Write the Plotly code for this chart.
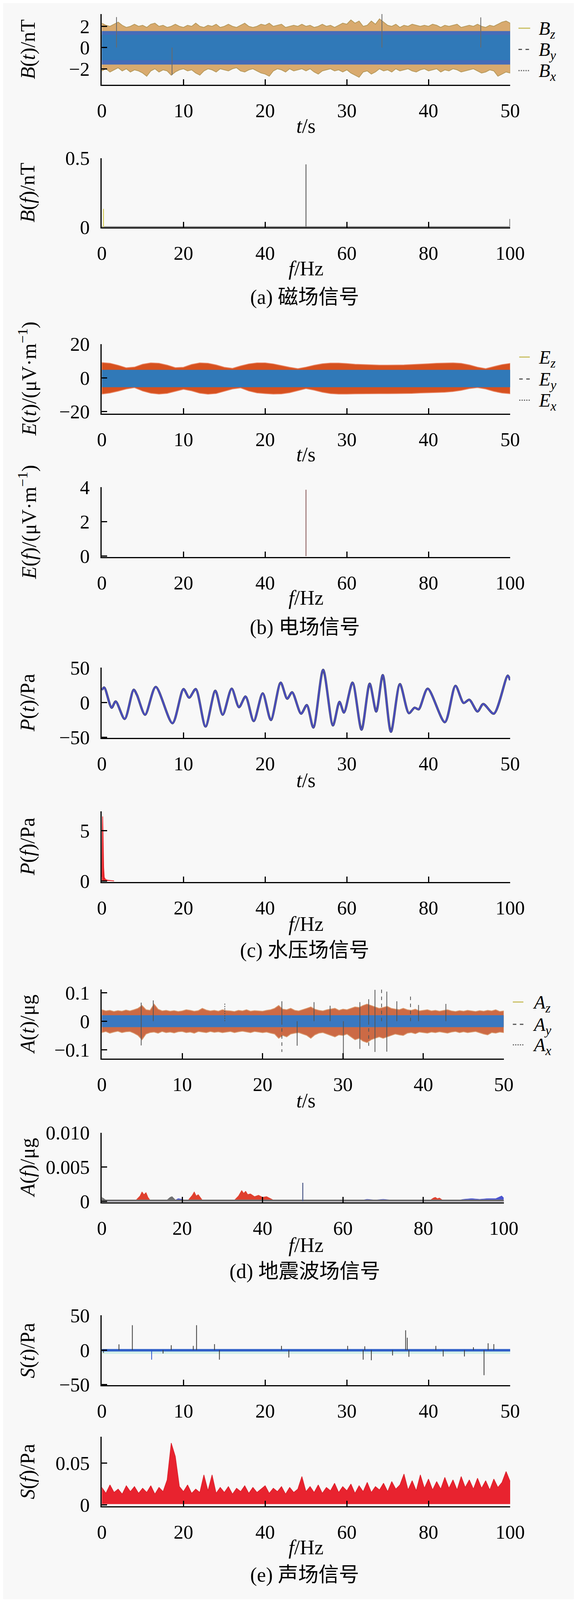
import plotly.graph_objects as go

W = 1476
REF_H = 4452          # reference page height, all positions below are read in it
H = 4086              # drawn height: the captured page stops near 4096 px
SERIF = "Liberation Serif"
CJK = "Liberation Serif, Noto Sans CJK SC"
BG = "#f8f8f8"

# ---- shared sample grids / tick labels ------------------------------------
t_ticks = [0, 10, 20, 30, 40, 50]
f_ticks = [0, 20, 40, 60, 80, 100]
t_half = [i / 2 for i in range(101)]   # envelope read every 0.5 s
t_sec = list(range(51))                 # envelope read every 1 s
f_hz = list(range(101))                 # envelope read every 1 Hz

# ---- (a) magnetic field ---------------------------------------------------
b_fuzz_top = [2.3, 2.1, 2.0, 2.2, 2.4, 2.1, 1.9, 2.0, 2.2, 2.0,
              2.1, 1.9, 2.2, 2.3, 2.0, 2.1, 1.9, 2.0, 2.2, 2.0,
              1.9, 2.1, 2.0, 2.3, 2.0, 1.9, 2.1, 2.0, 2.2, 1.9,
              2.0, 2.2, 2.0, 1.9, 2.1, 2.3, 2.0, 1.9, 2.0, 2.2,
              2.1, 2.3, 2.0, 2.1, 2.2, 1.9, 2.0, 2.1, 2.0, 2.2,
              2.0, 2.1, 1.9, 2.0, 2.2, 2.0, 2.1, 1.9, 2.1, 2.3,
              2.2, 2.6, 2.3, 2.5, 2.0, 2.1, 2.5, 2.2, 2.7, 2.4,
              2.1, 2.0, 2.2, 1.9, 2.1, 2.0, 2.2, 2.1, 2.0, 2.1,
              2.0, 2.2, 2.1, 1.9, 2.1, 2.0, 2.1, 2.2, 1.9, 2.0,
              2.1, 2.0, 2.2, 2.0, 1.9, 2.1, 2.0, 2.2, 2.4, 2.5,
              2.3]
b_fuzz_bot = [-2.2, -2.0, -2.3, -2.1, -1.9, -2.2, -2.0, -2.3, -2.1, -2.2,
              -2.4, -2.7, -2.2, -2.0, -2.3, -2.1, -2.2, -2.6, -2.3, -2.1,
              -2.0, -2.2, -2.1, -2.4, -2.6, -2.2, -2.0, -2.1, -2.3, -2.0,
              -2.1, -2.2, -2.0, -1.9, -2.2, -2.3, -2.1, -2.0, -2.2, -2.4,
              -2.5, -2.7, -2.2, -2.0, -2.1, -2.3, -2.0, -2.2, -2.1, -2.0,
              -2.2, -2.0, -2.3, -2.5, -2.2, -2.1, -2.0, -2.2, -2.1, -2.3,
              -2.1, -2.4, -2.6, -2.8, -2.3, -2.2, -2.5, -2.3, -2.0, -2.2,
              -2.1, -2.3, -2.0, -2.2, -2.1, -2.0, -2.2, -2.3, -2.1, -2.0,
              -2.2, -2.1, -2.0, -2.3, -2.1, -2.2, -2.0, -2.1, -2.3, -2.2,
              -2.1, -2.0, -2.2, -2.4, -2.3, -2.1, -2.2, -2.7, -2.5, -2.3,
              -2.4]
b_mid = [-1.6, 1.56]
b_core = [-1.2, 1.2]
b_spike_t = [1.8, 34.3, 46.4, 8.6]
b_spike_v = [2.87, 3.16, 2.85, -2.6]
bf_spike_f = [0.4, 50.0, 99.9]
bf_spike_v = [0.133, 0.455, 0.06]
bf_spike_c = ["#d8cf5a", "#6b6b6b", "#8a8a8a"]
bf_floor = 0.007

# ---- (b) electric field ---------------------------------------------------
e_top = [9.0, 8.6, 7.4, 5.9, 6.3, 8.0, 8.8, 8.6, 7.5, 6.0,
         6.2, 7.9, 8.8, 8.6, 7.6, 6.2, 5.6, 7.0, 8.2, 8.8,
         8.8, 8.2, 7.2, 6.2, 5.4, 6.3, 7.4, 8.3, 8.7, 8.7,
         8.4, 8.0, 7.8, 7.6, 7.5, 7.5, 7.5, 7.6, 7.8, 8.0,
         8.3, 8.6, 8.7, 8.8, 8.5, 7.6, 6.3, 5.4, 6.6, 7.8,
         8.5]
e_bot = [-9.6, -9.0, -7.9, -6.6, -5.8, -7.8, -9.1, -9.6, -9.2, -8.0,
         -6.8, -7.7, -9.1, -9.7, -9.3, -8.0, -6.6, -6.0, -7.8, -8.9,
         -9.3, -9.6, -9.5, -8.8, -7.6, -6.4, -7.3, -8.5, -9.3, -9.6,
         -9.6, -9.5, -9.5, -9.4, -9.4, -9.4, -9.4, -9.3, -9.2, -9.0,
         -8.8, -8.7, -8.5, -8.1, -7.4, -6.4, -5.8, -6.6, -8.0, -9.0,
         -9.4]
e_core = [-5.6, 4.7]
ef_spike_f = [50.0]
ef_spike_v = [3.85]

# ---- (c) water pressure ---------------------------------------------------
p_t = [0, 0.3, 1.2, 1.7, 2.8, 3.9, 4.3, 5.3, 6.6, 8.65, 10.0, 10.7, 11.5,
       12.7, 13.9, 14.8, 15.9, 16.8, 17.6, 18.6, 19.7, 20.7, 21.9, 22.7,
       23.3, 24.4, 25.1, 25.9, 27.1, 28.3, 29.1, 29.65, 30.7, 31.8, 32.8,
       33.6, 34.4, 35.4, 36.5, 37.6, 38.3, 38.8, 39.9, 42.0, 43.3, 44.3,
       45.0, 46.0, 46.7, 48.0, 49.7, 50.0]
p_v = [18, 21.5, -7.4, 1.5, -23.6, 18.4, 11, -17.5, 22.4, -29.7, 19.3, 7,
       19.3, -34.4, 16.9, -17.5, 19.9, -6.7, 8.6, -26.7, 13.2, -25.1, 28.5,
       5.5, 14.7, -16, -3.7, -35.9, 46.9, -32.8, 0.9, -14.4, 28.5, -39, 27,
       -12.9, 39.3, -42, 26.4, -15.3, -7.4, -9.8, 19.9, -28.2, 23.9, -0.6,
       4, -12.9, -2.1, -16, 38.6, 32]
pf_f = [0, 0.1, 0.2, 0.3, 0.45, 0.6, 0.9, 1.4, 2.2, 3.0]
pf_v = [0.4, 2.6, 6.4, 4.6, 1.3, 0.35, 0.15, 0.08, 0.03, 0]

# ---- (d) seismic ----------------------------------------------------------
a_fuzz_top = [.040, .036, .038, .034, .037, .035, .039, .036, .040, .045,
              .055, .040, .038, .060, .042, .036, .038, .035, .037, .034,
              .036, .040, .038, .035, .037, .045, .039, .036, .038, .035,
              .040, .037, .036, .034, .038, .036, .040, .035, .037, .036,
              .035, .038, .040, .045, .055, .042, .040, .045, .038, .036,
              .040, .045, .050, .042, .038, .036, .040, .043, .045, .038,
              .042, .040, .045, .050, .048, .055, .060, .055, .050, .045,
              .048, .052, .045, .042, .040, .045, .040, .038, .042, .036,
              .038, .040, .036, .038, .035, .037, .040, .036, .034, .037,
              .035, .038, .036, .034, .037, .035, .038, .036, .040, .034,
              .036]
a_fuzz_bot = [-.040, -.036, -.042, -.038, -.035, -.040, -.037, -.036, -.042, -.050,
              -.065, -.045, -.040, -.038, -.042, -.036, -.040, -.038, -.041, -.037,
              -.036, -.040, -.038, -.042, -.036, -.038, -.040, -.036, -.039, -.037,
              -.040, -.038, -.036, -.040, -.037, -.035, -.038, -.040, -.036, -.038,
              -.040, -.038, -.042, -.045, -.060, -.050, -.055, -.045, -.042, -.040,
              -.045, -.050, -.060, -.048, -.042, -.040, -.045, -.050, -.055, -.048,
              -.050, -.045, -.055, -.065, -.060, -.070, -.075, -.065, -.060, -.055,
              -.060, -.055, -.050, -.045, -.048, -.050, -.042, -.040, -.044, -.038,
              -.040, -.042, -.038, -.040, -.037, -.039, -.042, -.038, -.036, -.040,
              -.037, -.040, -.038, -.036, -.040, -.045, -.048, -.040, -.042, -.038,
              -.040]
a_core = [-0.021, 0.021]
a_spike_t = [4.9, 4.9, 6.4, 15.3, 22.4, 22.4, 24.3, 26.4, 28.4, 30.05, 32.1,
             32.1, 33.2, 33.2, 33.98, 33.98, 34.8, 35.45, 35.45, 36.7, 38.4,
             39.4, 42.8]
a_spike_v = [0.065, -0.085, 0.073, 0.065, 0.07, -0.108, -0.086, 0.067, 0.054,
             -0.133, 0.067, -0.0975, 0.077, -0.095, 0.110, -0.108, 0.117,
             0.104, -0.107, 0.07, 0.0895, 0.057, 0.0605]
a_spike_dash = ["solid", "solid", "solid", "dot", "solid", "dash", "solid",
                "solid", "solid", "solid", "solid", "solid", "solid", "dash",
                "solid", "solid", "dash", "solid", "solid", "solid", "dash",
                "solid", "solid"]
af_floor = 0.00025
af_red_f = [0, 8.5, 9.5, 10, 10.5, 11, 11.5, 12, 21.5, 22.5, 23, 23.5, 24, 25,
            33, 34, 34.8, 35.3, 35.8, 36.3, 37, 38, 39, 40, 41, 42, 43,
            81.5, 82.5, 83, 83.5, 84, 85, 100]
af_red_v = [0, 0.0002, 0.0008, 0.0014, 0.0010, 0.0013, 0.0006, 0.0002,
            0.0002, 0.0009, 0.0014, 0.0008, 0.0010, 0.0002,
            0.0002, 0.0008, 0.0016, 0.0012, 0.0015, 0.0010, 0.0011, 0.0007,
            0.0009, 0.0006, 0.0007, 0.0004, 0.0001,
            0.0001, 0.0005, 0.0006, 0.0004, 0.0005, 0.0001, 0]
af_blue_f = [0, 18, 19, 20, 21, 64, 66, 68, 70, 72, 74, 88, 90, 92, 94, 96, 98,
             99.5, 100]
af_blue_v = [0, 0.0001, 0.0004, 0.0003, 0.0001, 0.0001, 0.0003, 0.0002,
             0.0003, 0.0002, 0.0001, 0.0001, 0.0003, 0.0004, 0.0003, 0.0004,
             0.0004, 0.0008, 0.0005]
af_gray_f = [0, 0.5, 1.0, 16, 17, 17.5, 18.5, 100]
af_gray_v = [0.0006, 0.0004, 0.0002, 0.0001, 0.0006, 0.0007, 0.0001, 0.0001]
af_spike_f = [50.0]
af_spike_v = [0.0027]

# ---- (e) acoustic ---------------------------------------------------------
s_core = [-2.0, 1.6]
s_shade = [-5.5, -1.0]
s_spike_t = [3.74, 11.6, 37.2, 37.4, 2.1, 8.5, 11.2, 13.8, 22.0, 30.1, 32.2,
             40.9, 47.3, 48.0, 45.5, 46.8, 6.1, 14.4, 32.0, 33.0, 22.9, 37.6,
             41.8, 44.4, 35.6, 0.2, 7.5]
s_spike_v = [35.9, 35.9, 28.5, 17.8, 8.3, 7, 6, 8.6, 6, 6, 5.5, 6, 9.8, 8.6,
             4, -36.2, -13.8, -13.8, -13.8, -14.7, -10.7, -9.8, -9.2, -9.2,
             -7.7, -4, -5]
s_spike_c = ["#3a3a3a"] * 16 + ["#2a55d0"] + ["#3a3a3a"] * 10
sf_top = [.021, .014, .024, .015, .019, .013, .023, .016, .022, .014,
          .020, .015, .023, .013, .021, .016, .030, .074, .058, .022,
          .016, .024, .014, .019, .015, .036, .017, .036, .014, .021,
          .015, .022, .013, .020, .016, .023, .014, .021, .015, .019,
          .023, .014, .020, .016, .022, .013, .021, .015, .019, .034,
          .016, .022, .015, .024, .014, .021, .017, .026, .015, .022,
          .017, .025, .014, .023, .016, .027, .015, .022, .018, .026,
          .016, .028, .019, .024, .037, .018, .029, .017, .036, .020,
          .031, .018, .028, .019, .033, .020, .030, .018, .034, .021,
          .030, .019, .032, .020, .029, .018, .031, .021, .027, .040,
          .028]
sf_bottom = 0.001

# ---- captions / titles ----------------------------------------------------
captions = ["(a) 磁场信号", "(b) 电场信号", "(c) 水压场信号", "(d) 地震波场信号", "(e) 声场信号"]
caption_y = [801, 1734, 2648, 3556, 4414]
y_titles = ["<i>B</i>(<i>t</i>)/nT", "<i>B</i>(<i>f</i>)/nT",
            "<i>E</i>(<i>t</i>)/(μV·m<sup>−1</sup>)", "<i>E</i>(<i>f</i>)/(μV·m<sup>−1</sup>)",
            "<i>P</i>(<i>t</i>)/Pa", "<i>P</i>(<i>f</i>)/Pa",
            "<i>A</i>(<i>t</i>)/μg", "<i>A</i>(<i>f</i>)/μg",
            "<i>S</i>(<i>t</i>)/Pa", "<i>S</i>(<i>f</i>)/Pa"]
x_titles = ["<i>t</i>/s", "<i>f</i>/Hz"] * 4 + [None, "<i>f</i>/Hz"]
x_title_y = [316, 720, 1246, 1651, 2167, 2573, 3073, 3482, None, 4337]

# panel frames in reference pixels: (x0, x1, y_top, y_bottom)
frames = [(248, 1330, 0, 200), (248, 1330, 407.6, 602.8),
          (248, 1330, 933, 1130), (248, 1330, 1338, 1536),
          (248, 1330, 1848.5, 2046.7), (248, 1330, 2254.5, 2454.5),
          (248, 1313, 2758.8, 2954.5), (248, 1313, 3163.6, 3360.6),
          (248, 1330, 3680.3, 3878), (248, 1330, 4023.4, 4219.5)]
y_ranges = [[-3.51, 3.16], [0, 0.5], [-21.2, 20], [-0.06, 4], [-50.6, 50],
            [-0.1, 6.91], [-0.132, 0.111], [-0.00015, 0.010], [-50.8, 50],
            [-0.0013, 0.0815]]
y_tickvals = [[-2, 0, 2], [0, 0.5], [-20, 0, 20], [0, 2, 4], [-50, 0, 50],
              [0, 5], [-0.1, 0, 0.1], [0, 0.005, 0.010], [-50, 0, 50], [0, 0.05]]
y_ticktext = [["−2", "0", "2"], ["0", "0.5"], ["−20", "0", "20"], ["0", "2", "4"],
              ["−50", "0", "50"], ["0", "5"], ["−0.1", "0", "0.1"],
              ["0", "0.005", "0.010"], ["−50", "0", "50"], ["0", "0.05"]]


def pxx(x):
    return x / W


def pxy(y):
    return 1 - y / REF_H


fig = go.Figure()


def add(i, **kw):
    s = "" if i == 1 else str(i)
    kw.setdefault("mode", "lines")
    kw.setdefault("hoverinfo", "skip")
    fig.add_trace(go.Scatter(xaxis="x" + s, yaxis="y" + s, showlegend=False, **kw))


def band(i, xs, top, bot, color, edge):
    add(i, x=list(xs) + list(xs)[::-1], y=list(top) + list(bot)[::-1],
        fill="toself", fillcolor=color, line=dict(width=2, color=edge))


def flat_band(i, x0, x1, lo, hi, color):
    add(i, x=[x0, x1, x1, x0], y=[lo, lo, hi, hi], fill="toself",
        fillcolor=color, line=dict(width=0, color=color))


def spike(i, x, v, color, width=2, dash="solid"):
    add(i, x=[x, x], y=[0, v], line=dict(color=color, width=width, dash=dash))


# (a) B(t)
band(1, t_half, b_fuzz_top, b_fuzz_bot, "#d9aa6e", "#b79a5c")
flat_band(1, 0, 50, b_mid[0], b_mid[1], "#466cb8")
flat_band(1, 0, 50, b_core[0], b_core[1], "#3079b8")
for t, v in zip(b_spike_t, b_spike_v):
    spike(1, t, v, "#6a6a6a", 2)
# (a) B(f)
flat_band(2, 0, 100, 0, bf_floor, "#7a7a7a")
for f, v, c in zip(bf_spike_f, bf_spike_v, bf_spike_c):
    spike(2, f, v, c, 2.5)

# (b) E(t)
band(3, t_sec, e_top, e_bot, "#d6511f", "#e9805e")
flat_band(3, 0, 50, e_core[0], e_core[1], "#3079b8")
# (b) E(f)
for f, v in zip(ef_spike_f, ef_spike_v):
    spike(4, f, v, "#9a7272", 2.5)

# (c) P(t)
add(5, x=p_t, y=p_v, line=dict(color="#4a5070", width=6, shape="spline", smoothing=0.8))
add(5, x=p_t, y=p_v, line=dict(color="#4a4cc6", width=3.5, shape="spline", smoothing=0.8))
# (c) P(f)
add(6, x=pf_f, y=pf_v, fill="tozeroy", fillcolor="#e5262b", line=dict(color="#e5262b", width=2))

# (d) A(t)
band(7, t_half, a_fuzz_top, a_fuzz_bot, "#cc6a45", "#d9966a")
flat_band(7, 0, 50, a_core[0], a_core[1], "#3a78c0")
for t, v, d in zip(a_spike_t, a_spike_v, a_spike_dash):
    spike(7, t, v, "#555555", 2, d)
# (d) A(f)
add(8, x=af_red_f, y=af_red_v, fill="tozeroy", fillcolor="#e0402e", line=dict(color="#e0402e", width=1))
add(8, x=af_blue_f, y=af_blue_v, fill="tozeroy", fillcolor="#4b55d0", line=dict(color="#4b55d0", width=1))
add(8, x=af_gray_f, y=af_gray_v, fill="tozeroy", fillcolor="#707070", line=dict(color="#707070", width=1))
flat_band(8, 0, 100, 0, af_floor, "#6f6f6f")
for f, v in zip(af_spike_f, af_spike_v):
    spike(8, f, v, "#4e5a8a", 2.5)

# (e) S(t)
flat_band(9, 0, 50, s_shade[0], s_shade[1], "#d3efe8")
flat_band(9, 0, 50, s_core[0], s_core[1], "#2f5fc8")
for t, v, c in zip(s_spike_t, s_spike_v, s_spike_c):
    spike(9, t, v, c, 2)
# (e) S(f)
add(10, x=f_hz, y=[sf_bottom] * len(f_hz), line=dict(width=0, color="#e8262c"))
add(10, x=f_hz, y=sf_top, fill="tonexty", fillcolor="#e8232f", line=dict(color="#d81e28", width=1.5))

# ---- axes -----------------------------------------------------------------
tick_font = dict(family=SERIF, size=50, color="black")
layout = {}
for i, (x0, x1, yt, yb) in enumerate(frames, start=1):
    s = "" if i == 1 else str(i)
    is_time = i % 2 == 1
    ticks = t_ticks if is_time else f_ticks
    layout["xaxis" + s] = dict(
        domain=[pxx(x0), pxx(x1)], anchor="y" + s,
        range=[0, 50] if is_time else [0, 100],
        tickvals=ticks, ticktext=[str(v) for v in ticks],
        showline=True, linecolor="black", linewidth=3, ticks="inside",
        ticklen=14, tickwidth=3, tickcolor="black", showgrid=False,
        zeroline=False, tickfont=tick_font, ticklabelstandoff=20)
    layout["yaxis" + s] = dict(
        domain=[pxy(yb), pxy(yt)], anchor="x" + s, range=y_ranges[i - 1],
        tickvals=y_tickvals[i - 1], ticktext=y_ticktext[i - 1],
        showline=True, linecolor="black", linewidth=3, ticks="inside",
        ticklen=14, tickwidth=3, tickcolor="black", showgrid=False,
        zeroline=False, tickfont=tick_font, ticklabelstandoff=18)

annotations = []
title_font = dict(family=SERIF, size=52, color="black")
for i, (x0, x1, yt, yb) in enumerate(frames):
    annotations.append(dict(
        x=pxx(52), y=pxy((yt + yb) / 2), xref="paper", yref="paper",
        text=y_titles[i], textangle=-90, showarrow=False, font=title_font,
        xanchor="center", yanchor="middle"))
    if x_titles[i]:
        annotations.append(dict(
            x=pxx(789), y=pxy(x_title_y[i]), xref="paper", yref="paper",
            text=x_titles[i], showarrow=False, font=title_font,
            xanchor="center", yanchor="middle"))
for cap, cy in zip(captions, caption_y):
    annotations.append(dict(
        x=pxx(786), y=pxy(cy), xref="paper", yref="paper", text=cap,
        showarrow=False, font=dict(family=CJK, size=52, color="black"),
        xanchor="center", yanchor="middle"))

# legend entries drawn beside (a), (b), (d)
legend_sets = [
    ("B", [40, 100, 160], 1352, 1383, 1403),
    ("E", [970, 1032, 1092], 1354, 1382, 1403),
    ("A", [2794, 2857, 2915], 1337, 1365, 1388),
]
legend_comp = ["z", "y", "x"]
legend_style = [("#c9bf62", "solid"), ("#555555", "dash"), ("#666666", "dot")]
shapes = []
for sym, ys, lx0, lx1, tx in legend_sets:
    for comp, yy, (col, dash) in zip(legend_comp, ys, legend_style):
        shapes.append(dict(type="line", xref="paper", yref="paper",
                           x0=pxx(lx0), x1=pxx(lx1), y0=pxy(yy), y1=pxy(yy),
                           line=dict(color=col, width=3, dash=dash)))
        annotations.append(dict(
            x=pxx(tx), y=pxy(yy + 4), xref="paper", yref="paper",
            text="<i>%s</i><sub><i>%s</i></sub>" % (sym, comp), showarrow=False,
            font=dict(family=SERIF, size=48, color="black"),
            xanchor="left", yanchor="middle"))

fig.update_layout(
    width=W, height=H, margin=dict(l=0, r=0, t=0, b=0),
    paper_bgcolor=BG, plot_bgcolor=BG, showlegend=False,
    annotations=annotations, shapes=shapes, **layout)

fig.write_html("out.html")
